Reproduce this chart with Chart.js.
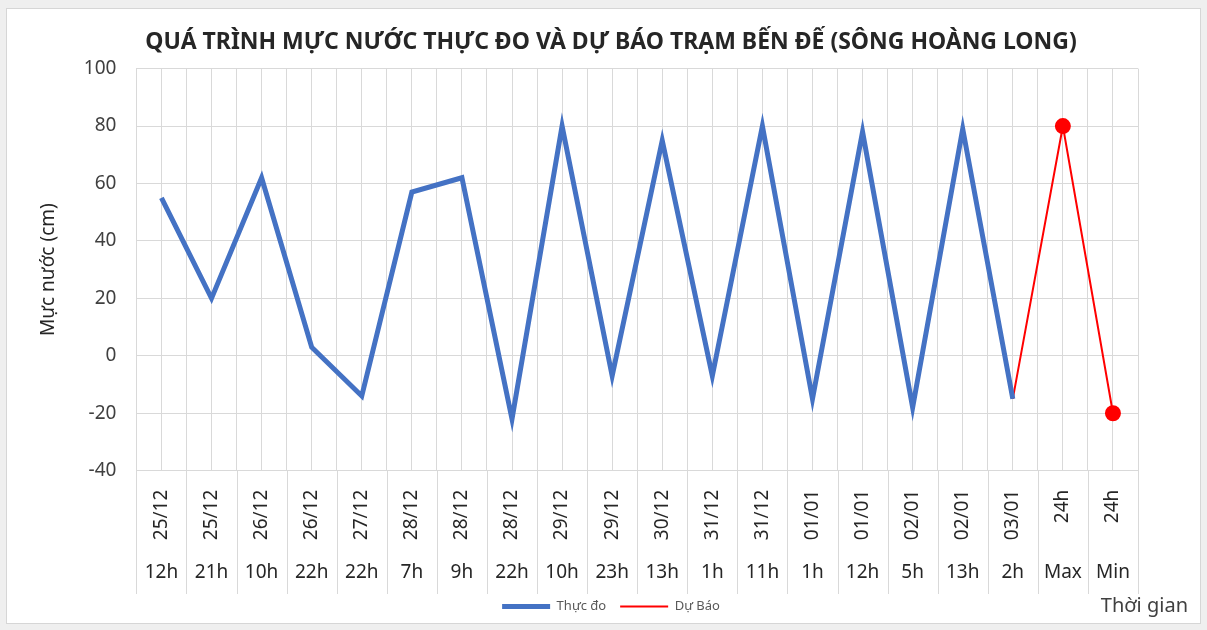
<!DOCTYPE html>
<html>
<head>
<meta charset="utf-8">
<script src="https://cdn.jsdelivr.net/npm/chart.js@4/dist/chart.umd.min.js"></script>
<style>
  body { margin: 0; background: #efefef; }
  #wrap { position: absolute; left: 6px; top: 8px; width: 1193px; height: 614px; background: #fff; border: 1px solid #d6d6d6; }
</style>
</head>
<body>
<div id="wrap"><canvas id="chart" width="1193" height="614"></canvas></div>
<script>
// data
const dates = ["25/12","25/12","26/12","26/12","27/12","28/12","28/12","28/12","29/12","29/12",
  "30/12","31/12","31/12","01/01","01/01","02/01","02/01","03/01","24h","24h"];
const hours = ["12h","21h","10h","22h","22h","7h","9h","22h","10h","23h",
  "13h","1h","11h","1h","12h","5h","13h","2h","Max","Min"];
const measured = [55, 20, 62, 3, -14, 57, 62, -22, 80, -7, 75, -7, 80, -15, 78, -18, 79, -15, null, null];
const forecast = [null, null, null, null, null, null, null, null, null, null,
  null, null, null, null, null, null, null, -15, 80, -20];
const forecastDots = [0, 0, 0, 0, 0, 0, 0, 0, 0, 0, 0, 0, 0, 0, 0, 0, 0, 0, 7, 7];

const FONT = "'Noto Sans', sans-serif";
const gridColor = "#d9d9d9";

// separators between categories through the label table
const tableLines = {
  id: "tableLines",
  afterDraw(chart) {
    const x = chart.scales.x, x2 = chart.scales.x2;
    const half = (x.getPixelForValue(1) - x.getPixelForValue(0)) / 2;
    const ctx = chart.ctx;
    ctx.save();
    ctx.strokeStyle = gridColor;
    ctx.lineWidth = 1;
    for (let i = 0; i <= dates.length; i++) {
      const px = Math.round(x.getPixelForValue(i) - half) + 0.5;
      ctx.beginPath();
      ctx.moveTo(px, chart.chartArea.bottom);
      ctx.lineTo(px, x2.bottom + 8);
      ctx.stroke();
    }
    // axis caption at the bottom right
    const lg = chart.legend;
    ctx.fillStyle = "#404040";
    ctx.font = "20px " + FONT;
    ctx.textAlign = "right";
    ctx.textBaseline = "middle";
    ctx.fillText("Thời gian", chart.width - 12, (lg.top + lg.bottom) / 2 + 2);
    ctx.restore();
  }
};

new Chart(document.getElementById("chart"), {
  type: "line",
  data: {
    labels: dates,
    datasets: [
      {
        label: "Thực đo",
        data: measured,
        borderColor: "#4472C4",
        backgroundColor: "#4472C4",
        borderWidth: 5,
        pointRadius: 0,
        tension: 0
      },
      {
        label: "Dự Báo",
        data: forecast,
        borderColor: "#ff0000",
        backgroundColor: "#ff0000",
        borderWidth: 2,
        pointRadius: forecastDots,
        pointBackgroundColor: "#ff0000",
        pointBorderColor: "#ff0000",
        pointBorderWidth: 2,
        tension: 0
      }
    ]
  },
  options: {
    responsive: false,
    animation: false,
    layout: { padding: { left: 28, right: 13, top: 4, bottom: 0 } },
    plugins: {
      title: {
        display: true,
        text: "QUÁ TRÌNH MỰC NƯỚC THỰC ĐO VÀ DỰ BÁO TRẠM BẾN ĐẾ (SÔNG HOÀNG LONG)",
        color: "#262626",
        font: { family: FONT, size: 23, weight: "bold" },
        padding: { top: 16, bottom: 12 }
      },
      legend: {
        position: "bottom",
        labels: {
          usePointStyle: true,
          pointStyle: "line",
          pointStyleWidth: 48,
          color: "#595959",
          font: { family: FONT, size: 13 },
          padding: 14
        }
      },
      tooltip: { enabled: false }
    },
    scales: {
      y: {
        min: -40,
        max: 100,
        ticks: { stepSize: 20, color: "#404040", font: { family: FONT, size: 19 }, padding: 20 },
        grid: { color: gridColor, drawTicks: false },
        border: { display: false },
        title: { display: true, text: "Mực nước (cm)", color: "#262626", font: { family: FONT, size: 19 }, padding: { top: 2, bottom: 4 } }
      },
      // empty right-hand axis, only keeps room for the "Thời gian" caption
      y2: {
        position: "right",
        min: -40,
        max: 100,
        grid: { display: false },
        border: { display: false },
        ticks: { display: false },
        afterFit(scale) { scale.width = 49; }
      },
      x: {
        weight: 0,
        offset: true,
        grid: { color: gridColor, offset: true, drawTicks: false },
        border: { display: false },
        ticks: { autoSkip: false, minRotation: 90, maxRotation: 90, color: "#262626", font: { family: FONT, size: 19 }, padding: 19 }
      },
      x2: {
        type: "category",
        labels: hours,
        position: "bottom",
        weight: 1,
        offset: true,
        grid: { color: gridColor, offset: false, drawTicks: false },
        border: { display: false },
        ticks: { autoSkip: false, maxRotation: 0, color: "#262626", font: { family: FONT, size: 19 }, padding: 2 }
      }
    }
  },
  plugins: [tableLines]
});
</script>
</body>
</html>
